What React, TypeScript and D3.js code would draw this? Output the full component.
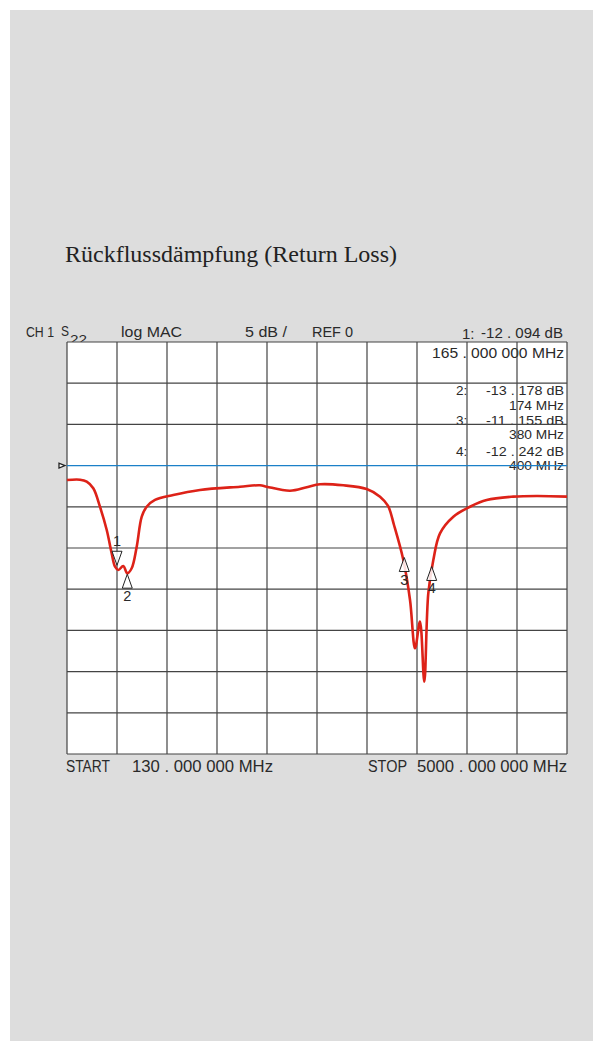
import * as d3 from "d3";
import React from "react";

// trace readings (frequency in MHz on the START/STOP sweep, return loss in dB)
const freqMHz = [
  130, 257, 322, 386, 451, 517, 565, 598, 630, 678, 717, 760, 809, 858, 906, 987, 1165, 1425, 1815, 2010,
  2075, 2302, 2465, 2594, 2821, 3049, 3179, 3257, 3315, 3406, 3471, 3520, 3568, 3610, 3649, 3698, 3763,
  3893, 4055, 4218, 4477, 4705, 5000,
];
const returnLossDb = [
  -1.75, -1.71, -1.95, -2.75, -4.99, -7.82, -10.64, -12.27, -12.67, -12.18, -13.07, -12.46, -9.84, -6.2,
  -4.99, -4.17, -3.57, -2.96, -2.56, -2.39, -2.56, -3.05, -2.63, -2.27, -2.39, -2.84, -3.77, -4.9, -7.21,
  -11.46, -16.31, -22.17, -18.94, -26.23, -15.5, -11.46, -8.22, -6.2, -4.99, -4.17, -3.77, -3.69, -3.77,
];

// markers
const markerIds = ["1", "2", "3", "4"];
const markerDb = [-12.094, -13.178, -11.155, -12.242];
const markerPlotMHz = [617, 717, 3415, 3682];
const markerPointsDown = [true, false, false, false];
const markerDbText = ["-12 . 094  dB", "-13 . 178  dB", "-11 . 155  dB", "-12 . 242  dB"];
const markerFreqText = ["165 . 000  000  MHz", "174 MHz", "380 MHz", "400 MHz"];

const startMHz = 130;
const stopMHz = 5000;
const dbPerDiv = 5;
const refDb = 0;
const topDb = 15;
const bottomDb = -35;

const sans = "'Liberation Sans Narrow', 'Liberation Sans', Arial, sans-serif";
const ink = "#2a2a2a";

export default function App() {
  const left = 67,
    right = 567,
    top = 342,
    bottom = 754;

  const x = d3.scaleLinear().domain([startMHz, stopMHz]).range([left, right]);
  const y = d3.scaleLinear().domain([bottomDb, topDb]).range([bottom, top]);

  const xDivs = d3.range(11).map(i => startMHz + ((stopMHz - startMHz) / 10) * i);
  const yDivs = d3.range(bottomDb, topDb + 0.1, dbPerDiv);

  const pts = freqMHz.map((f, i) => [f, returnLossDb[i]] as [number, number]);
  const line = d3
    .line<[number, number]>()
    .x(d => x(d[0]))
    .y(d => y(d[1]))
    .curve(d3.curveCatmullRom.alpha(0.5));

  const yRef = y(refDb);

  return (
    <svg width={593} height={1041} style={{ position: "absolute", left: 0, top: 0 }} xmlSpace="preserve">
      <rect x={0} y={0} width={593} height={1041} fill="#fff" />
      <rect x={10} y={10} width={583} height={1031} fill="#dddddd" />

      <text x={65} y={262} fontFamily="'Liberation Serif', 'Times New Roman', serif" fontSize={24} fill="#222">
        Rückflussdämpfung (Return Loss)
      </text>

      {/* header */}
      <g fontFamily={sans} fontSize={15.5} fill={ink}>
        <text x={26} y={337} textLength={28} lengthAdjust="spacingAndGlyphs">
          CH 1
        </text>
        <text x={61} y={336} textLength={8} lengthAdjust="spacingAndGlyphs">S</text>
        <text x={70} y={344} fontSize={13} textLength={17} lengthAdjust="spacingAndGlyphs">
          22
        </text>
        <text x={121} y={337} textLength={61} lengthAdjust="spacingAndGlyphs">
          {"log  MAC"}
        </text>
        <text x={245} y={337} textLength={42} lengthAdjust="spacingAndGlyphs">
          {"5  dB /"}
        </text>
        <text x={312} y={337} textLength={41} lengthAdjust="spacingAndGlyphs">
          {"REF  0"}
        </text>
      </g>

      <rect x={left} y={top} width={right - left} height={bottom - top} fill="#fff" />

      {/* marker readout */}
      <g fontFamily={sans} fill={ink}>
        <text x={462} y={339} fontSize={15}>
          1:
        </text>
        <text x={563} y={338} fontSize={15} textAnchor="end" textLength={82} lengthAdjust="spacingAndGlyphs">
          {markerDbText[0]}
        </text>
        <text x={564} y={358} fontSize={15} textAnchor="end" textLength={132} lengthAdjust="spacingAndGlyphs">
          {markerFreqText[0]}
        </text>
        {[1, 2, 3].map((k, j) => {
          const base = [395, 424.5, 455.5][j];
          return (
            <g key={k}>
              <text x={456} y={base} fontSize={13.5}>
                {markerIds[k]}:
              </text>
              <text x={564} y={base} fontSize={13.5} textAnchor="end" textLength={78} lengthAdjust="spacingAndGlyphs">
                {markerDbText[k]}
              </text>
              <text x={564} y={base + 14.5} fontSize={13.5} textAnchor="end" textLength={55} lengthAdjust="spacingAndGlyphs">
                {markerFreqText[k]}
              </text>
            </g>
          );
        })}
      </g>

      {/* graticule */}
      <g stroke="#444" strokeWidth={1.2} fill="none">
        {xDivs.map(f => (
          <line key={"v" + f} x1={x(f)} x2={x(f)} y1={top} y2={bottom} />
        ))}
        {yDivs
          .filter(v => v !== refDb)
          .map(v => (
            <line key={"h" + v} x1={left} x2={right} y1={y(v)} y2={y(v)} />
          ))}
      </g>
      <line x1={left} x2={right} y1={yRef} y2={yRef} stroke="#1b80c8" strokeWidth={1.3} />
      <path
        d={`M${left - 2},${yRef} L${left - 8},${yRef - 2.5} L${left - 8},${yRef + 2.5} Z`}
        fill="#fff"
        stroke="#222"
        strokeWidth={1.3}
      />

      {/* trace */}
      <path d={line(pts) ?? ""} fill="none" stroke="#dd2218" strokeWidth={2.6} strokeLinejoin="round" />

      {/* markers */}
      <g fontFamily={sans} fontSize={14.5} fill={ink}>
        {markerIds.map((id, i) => {
          const mx = x(markerPlotMHz[i]);
          const my = y(markerDb[i]);
          const down = markerPointsDown[i];
          const h = 14,
            w = 5;
          const tri = down
            ? `M${mx},${my} L${mx - w},${my - h} L${mx + w},${my - h} Z`
            : `M${mx},${my} L${mx - w},${my + h} L${mx + w},${my + h} Z`;
          return (
            <g key={id}>
              <path d={tri} fill="#fff" fillOpacity={0.85} stroke="#222" strokeWidth={1} />
              <text x={mx} y={down ? my - 19 : my + 27} textAnchor="middle">
                {id}
              </text>
            </g>
          );
        })}
      </g>

      {/* sweep */}
      <g fontFamily={sans} fontSize={16} fill={ink}>
        <text x={66} y={772} textLength={44} lengthAdjust="spacingAndGlyphs">
          START
        </text>
        <text x={132} y={772} textLength={141} lengthAdjust="spacingAndGlyphs">
          {`${startMHz} . 000 000 MHz`}
        </text>
        <text x={368} y={772} textLength={39} lengthAdjust="spacingAndGlyphs">
          STOP
        </text>
        <text x={417} y={772} textLength={150} lengthAdjust="spacingAndGlyphs">
          {`${stopMHz} . 000 000 MHz`}
        </text>
      </g>
    </svg>
  );
}
